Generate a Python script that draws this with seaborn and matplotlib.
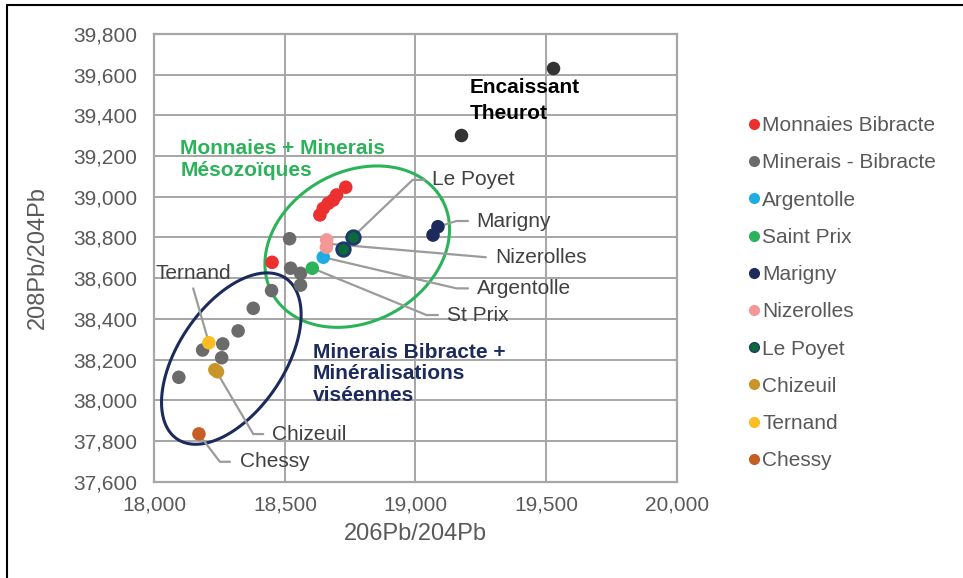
import numpy as np
import pandas as pd
import matplotlib.pyplot as plt
from matplotlib.lines import Line2D
from matplotlib.ticker import FuncFormatter, MultipleLocator
import seaborn as sns

# Pb isotopes (206Pb/204Pb, 208Pb/204Pb)
monnaies_x = [18634, 18647, 18666, 18685, 18698, 18733, 18451]
monnaies_y = [38911, 38943, 38968, 38984, 39009, 39047, 38678]
minerais_x = [18518, 18522, 18560, 18560, 18449, 18379, 18321, 18262, 18185, 18258, 18094]
minerais_y = [38794, 38649, 38624, 38566, 38539, 38452, 38341, 38277, 38247, 38209, 38113]
argentolle_x, argentolle_y = [18647], [38703]
saintprix_x, saintprix_y = [18605], [38649]
marigny_x, marigny_y = [19086, 19067], [38853, 38812]
nizerolles_x, nizerolles_y = [18660, 18659], [38788, 38752]
lepoyet_x, lepoyet_y = [18759, 18721], [38801, 38742]
chizeuil_x, chizeuil_y = [18232, 18242], [38150, 38140]
ternand_x, ternand_y = [18209], [38283]
chessy_x, chessy_y = [18171], [37835]
encaissant_x, encaissant_y = [19527, 19173], [39634, 39304]

groups = ['Monnaies Bibracte', 'Minerais - Bibracte', 'Argentolle', 'Saint Prix', 'Marigny',
          'Nizerolles', 'Le Poyet', 'Chizeuil', 'Ternand', 'Chessy']
colors = ['#ec2f2f', '#6b6b6b', '#1eace4', '#2cb35a', '#1c2b5c',
          '#f39797', '#0c6a3a', '#c99528', '#fbbd21', '#c45e24']

xs = [monnaies_x, minerais_x, argentolle_x, saintprix_x, marigny_x,
      nizerolles_x, lepoyet_x, chizeuil_x, ternand_x, chessy_x]
ys = [monnaies_y, minerais_y, argentolle_y, saintprix_y, marigny_y,
      nizerolles_y, lepoyet_y, chizeuil_y, ternand_y, chessy_y]
df = pd.concat([pd.DataFrame({'x': a, 'y': b, 'site': g}) for a, b, g in zip(xs, ys, groups)],
               ignore_index=True)

sns.set_style('white')
plt.rcParams['font.family'] = ['Liberation Sans', 'DejaVu Sans']

fig = plt.figure(figsize=(9.63, 5.78), dpi=100)
ax = fig.add_axes([0.1602, 0.1666, 0.5425, 0.7746])
ax.set_xlim(18000, 20000)
ax.set_ylim(37600, 39800)
ax.xaxis.set_major_locator(MultipleLocator(500))
ax.yaxis.set_major_locator(MultipleLocator(200))
fmt = FuncFormatter(lambda v, p: f'{v:,.0f}')
ax.xaxis.set_major_formatter(fmt)
ax.yaxis.set_major_formatter(fmt)
ax.grid(True, color='#a6a6a6', lw=1.4)
ax.set_axisbelow(True)
for s in ax.spines.values():
    s.set_color('#a6a6a6')
    s.set_linewidth(1.6)
ax.tick_params(length=0, labelsize=15, labelcolor='#595959')
ax.tick_params(axis='x', pad=10)
ax.tick_params(axis='y', pad=12)

# helper ellipse ring given in screen pixels around a data centre
def ring(cx, cy, a, b, ang, color):
    t = np.linspace(0, 2 * np.pi, 300)
    r = np.deg2rad(ang)
    px = a * np.cos(t) * np.cos(r) - b * np.sin(t) * np.sin(r)
    py = a * np.cos(t) * np.sin(r) + b * np.sin(t) * np.cos(r)
    c = ax.transData.transform((cx, cy))
    pts = ax.transData.inverted().transform(np.column_stack([c[0] + px, c[1] + py]))
    ax.plot(pts[:, 0], pts[:, 1], color=color, lw=2.2, zorder=2)

ring(18777, 38755, 97, 75, 29, '#2cb35a')
ring(18295, 38205, 97, 53, 56, '#1c2b5c')

# leader lines
lc = '#9b9b9b'
leaders = [
    ([18759, 18989, 19036], [38801, 39083, 39083]),
    ([19086, 19157, 19201], [38853, 38881, 38881]),
    ([18660, 19269], [38770, 38703]),
    ([18647, 19157, 19201], [38703, 38550, 38550]),
    ([18605, 19042, 19086], [38649, 38419, 38419]),
    ([18209, 18149], [38283, 38550]),
    ([18236, 18379, 18417], [38146, 37834, 37834]),
    ([18171, 18251, 18290], [37833, 37698, 37698]),
]
for lx, ly in leaders:
    ax.plot(lx, ly, color=lc, lw=1.6, zorder=3)

sns.scatterplot(data=df, x='x', y='y', hue='site', palette=dict(zip(groups, colors)),
                s=95, linewidth=0, legend=False, ax=ax, zorder=4)
ax.scatter(lepoyet_x, lepoyet_y, s=95, c='#0c6a3a', edgecolors='#1c3a6e', linewidths=2, zorder=5)
ax.scatter(encaissant_x, encaissant_y, s=95, c='#333333', linewidths=0, zorder=5)
ax.set_xlabel('206Pb/204Pb', fontsize=17, color='#595959', labelpad=6)
ax.set_ylabel('208Pb/204Pb', fontsize=17, color='#595959', labelpad=18)

tc = '#404040'
labels = [('Le Poyet', 19065, 39083), ('Marigny', 19233, 38881), ('Nizerolles', 19306, 38703),
          ('Argentolle', 19236, 38550), ('St Prix', 19119, 38419), ('Chizeuil', 18449, 37834),
          ('Chessy', 18328, 37698)]
for t, x, y in labels:
    ax.text(x, y, t, fontsize=15, color=tc, va='center', ha='left', zorder=6)
ax.text(18149, 38624, 'Ternand', fontsize=15, color=tc, va='center', ha='center', zorder=6)

ax.text(19208, 39472, 'Encaissant\nTheurot', fontsize=15, fontweight='bold', color='black',
        va='center', ha='left', linespacing=1.44, zorder=6)
ax.text(18099, 39182, 'Monnaies + Minerais\nMésozoïques', fontsize=15, fontweight='bold',
        color='#2cb35a', va='center', ha='left', linespacing=1.22, zorder=6)
ax.text(18607, 38130, 'Minerais Bibracte +\nMinéralisations\nviséennes', fontsize=15,
        fontweight='bold', color='#1c2b5c', va='center', ha='left', linespacing=1.15, zorder=6)

handles = []
for g, c in zip(groups, colors):
    ec = '#1c3a6e' if g == 'Le Poyet' else c
    handles.append(Line2D([], [], ls='none', marker='o', ms=7, mfc=c, mec=ec, label=g))
ax.legend(handles=handles, loc='upper left', bbox_to_anchor=(0.7675, 0.8135),
          bbox_transform=fig.transFigure, frameon=False, fontsize=15, labelcolor='#595959',
          handlelength=0.6, handletextpad=0.12, labelspacing=0.875, borderaxespad=0)

# chart area frame (left and top edges)
fig.add_artist(Line2D([0.0073, 0.0073], [0, 0.991], color='black', lw=1.5))
fig.add_artist(Line2D([0.0073, 1.0], [0.991, 0.991], color='black', lw=1.5))

fig.savefig('out.png', dpi=100)
plt.close()
